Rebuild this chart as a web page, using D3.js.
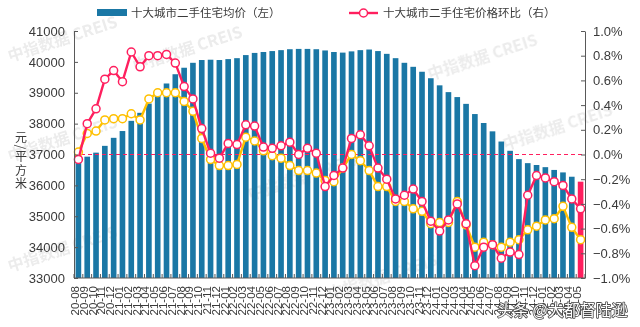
<!DOCTYPE html>
<html>
<head>
<meta charset="utf-8">
<script src="https://cdn.jsdelivr.net/npm/d3@7"></script>
<style>
  html, body { margin: 0; padding: 0; background: #fff; }
  svg { display: block; }
  .vtitle { writing-mode: vertical-rl; text-orientation: mixed; }
</style>
</head>
<body>
<svg id="chart" width="640" height="327"></svg>
<script>
// Month labels (YY-MM), 2020-08 through 2025-05
const months = [
  "20-08","20-09","20-10","20-11","20-12",
  "21-01","21-02","21-03","21-04","21-05","21-06","21-07","21-08","21-09","21-10","21-11","21-12",
  "22-01","22-02","22-03","22-04","22-05","22-06","22-07","22-08","22-09","22-10","22-11","22-12",
  "23-01","23-02","23-03","23-04","23-05","23-06","23-07","23-08","23-09","23-10","23-11","23-12",
  "24-01","24-02","24-03","24-04","24-05","24-06","24-07","24-08","24-09","24-10","24-11","24-12",
  "25-01","25-02","25-03","25-04","25-05"
];

// Ten-city second-hand home average price (yuan / m2), left axis
const avgPrice = [
  36760, 36930, 37060, 37280, 37540,
  37760, 38090, 38350, 38650, 38930, 39300, 39600, 39810, 39970, 40060, 40070, 40060,
  40090, 40120, 40220, 40290, 40320, 40350, 40380, 40410, 40420, 40420, 40410, 40370,
  40320, 40300, 40340, 40380, 40400, 40350, 40260, 40120, 39970, 39840, 39680, 39470,
  39240, 39020, 38860, 38640, 38310, 38020, 37750, 37420, 37120, 36850, 36720, 36660,
  36590, 36500, 36420, 36280, 36120
];

// Month-on-month change of the ten-city price (%), right axis
const momChange = [
  -0.04, 0.25, 0.37, 0.61, 0.68,
  0.59, 0.83, 0.71, 0.80, 0.80, 0.81, 0.74, 0.55, 0.45, 0.21, 0.01, -0.03,
  0.09, 0.08, 0.24, 0.23, 0.06, 0.05, 0.07, 0.10, 0.00, 0.05, 0.01, -0.26,
  -0.17, -0.11, 0.13, 0.16, 0.07, -0.11, -0.20, -0.36, -0.33, -0.28, -0.38, -0.54,
  -0.62, -0.53, -0.40, -0.56, -0.90, -0.75, -0.73, -0.84, -0.79, -0.81, -0.33, -0.17,
  -0.19, -0.22, -0.25, -0.36, -0.44
];

// Companion month-on-month series (%), right axis
const momChange2 = [
  0.02, 0.17, 0.19, 0.28, 0.29,
  0.29, 0.33, 0.28, 0.45, 0.50, 0.50, 0.50, 0.43, 0.35, 0.13, -0.04, -0.09,
  -0.09, -0.08, 0.14, 0.11, 0.03, -0.01, -0.03, -0.09, -0.13, -0.13, -0.15, -0.21,
  -0.22, -0.11, 0.00, -0.05, -0.13, -0.26, -0.26, -0.38, -0.38, -0.44, -0.46, -0.56,
  -0.55, -0.55, -0.38, -0.57, -0.75, -0.71, -0.73, -0.75, -0.71, -0.69, -0.61, -0.58,
  -0.53, -0.52, -0.42, -0.59, -0.69
];

const leftTicks = [33000, 34000, 35000, 36000, 37000, 38000, 39000, 40000, 41000];
const rightTicks = [-1.0, -0.8, -0.6, -0.4, -0.2, 0.0, 0.2, 0.4, 0.6, 0.8, 1.0];
const legendLabels = ["十大城市二手住宅均价（左）", "十大城市二手住宅价格环比（右）"];
const yTitle = "元/平方米";

const BLUE = "#1a77a5";
const PINK = "#ff1f5e";
const GOLD = "#ffc000";
const AXIS = "#595959";
const TEXT = "#3a3a3a";
const NUM_FONT = "'Liberation Sans', Arial, sans-serif";
const CJK_FONT = "'Noto Sans CJK SC', sans-serif";

const svg = d3.select("#chart");
const plotL = 74, plotR = 585, plotT = 31, plotB = 278;

const x = d3.scaleBand().domain(months).range([plotL, plotR]).paddingInner(0.36).paddingOuter(0.18);
const yL = d3.scaleLinear().domain([33000, 41000]).range([plotB, plotT]);
const yR = d3.scaleLinear().domain([-1.0, 1.0]).range([plotB, plotT]);
const cx = d => x(d) + x.bandwidth() / 2;

// Faint background watermarks
const wm = svg.append("g").attr("class", "watermark")
  .attr("font-family", CJK_FONT).attr("font-weight", "bold")
  .attr("font-size", 16).attr("fill", "#c8c8c8").attr("opacity", 0.35);
[[10, 62], [135, 72], [10, 162], [10, 272], [250, 200], [430, 80], [505, 150], [330, 300]]
  .forEach(([wx, wy]) => {
    wm.append("text").attr("transform", `translate(${wx},${wy}) rotate(-18)`).text("中指数据 CREIS");
  });

// Bars
svg.append("g").selectAll("rect").data(months).join("rect")
  .attr("x", d => x(d))
  .attr("y", (d, i) => yL(avgPrice[i]))
  .attr("width", x.bandwidth())
  .attr("height", (d, i) => plotB - yL(avgPrice[i]))
  .attr("fill", (d, i) => i === months.length - 1 ? PINK : BLUE);

// Zero reference line on the right axis
svg.append("line")
  .attr("x1", plotL).attr("x2", plotR)
  .attr("y1", yR(0)).attr("y2", yR(0))
  .attr("stroke", PINK).attr("stroke-width", 1.2).attr("stroke-dasharray", "4,3");

// Lines with hollow markers
function drawSeries(values, color) {
  const line = d3.line().x((d, i) => cx(months[i])).y(d => yR(d));
  svg.append("path").datum(values).attr("d", line)
    .attr("fill", "none").attr("stroke", color).attr("stroke-width", 2.4)
    .attr("stroke-linejoin", "round");
  svg.append("g").selectAll("circle").data(values).join("circle")
    .attr("cx", (d, i) => cx(months[i])).attr("cy", d => yR(d))
    .attr("r", 4).attr("fill", "#fff").attr("stroke", color).attr("stroke-width", 1.5);
}
drawSeries(momChange2, GOLD);
drawSeries(momChange, PINK);

// Left axis
const axL = svg.append("g").attr("transform", `translate(${plotL},0)`)
  .call(d3.axisLeft(yL).tickValues(leftTicks).tickFormat(d3.format("d")).tickSizeInner(-4).tickSizeOuter(0).tickPadding(9));
// Right axis
const axR = svg.append("g").attr("transform", `translate(${plotR},0)`)
  .call(d3.axisRight(yR).tickValues(rightTicks).tickFormat(d => d3.format(".1f")(d) + "%").tickSizeInner(-4).tickSizeOuter(0).tickPadding(9));
[axL, axR].forEach(ax => {
  ax.select(".domain").attr("stroke", AXIS);
  ax.selectAll(".tick line").attr("stroke", AXIS);
  ax.selectAll("text").attr("fill", TEXT).attr("font-family", NUM_FONT).attr("font-size", 13);
});
axR.selectAll("text").attr("x", 8);

// Bottom axis: tick marks between months, rotated labels
svg.append("line").attr("x1", plotL).attr("x2", plotR).attr("y1", plotB).attr("y2", plotB)
  .attr("stroke", AXIS).attr("stroke-width", 1);
const step = x.step();
const edge0 = plotL + step * x.paddingOuter() - step * x.paddingInner() / 2;
svg.append("g").selectAll("line").data(d3.range(months.length + 1)).join("line")
  .attr("x1", i => edge0 + i * step)
  .attr("x2", i => edge0 + i * step)
  .attr("y1", plotB).attr("y2", plotB - 4)
  .attr("stroke", AXIS);
svg.append("g").selectAll("text").data(months).join("text")
  .attr("transform", d => `translate(${cx(d) + 0.5},${286}) rotate(-90)`)
  .attr("text-anchor", "end")
  .attr("font-family", NUM_FONT).attr("font-size", 11.5).attr("fill", TEXT)
  .text(d => d);

// Vertical axis title set in vertical writing mode
svg.append("text").attr("class", "vtitle")
  .attr("x", 21).attr("y", 131)
  .attr("font-family", CJK_FONT).attr("font-size", 12).attr("fill", TEXT)
  .attr("letter-spacing", 1.5)
  .text(yTitle);

// Legend
const lg = svg.append("g").attr("font-family", CJK_FONT).attr("font-size", 11.5).attr("fill", TEXT);
lg.append("rect").attr("x", 97).attr("y", 9).attr("width", 30).attr("height", 7).attr("fill", BLUE);
lg.append("text").attr("x", 131).attr("y", 17).text(legendLabels[0]);
lg.append("line").attr("x1", 349).attr("x2", 378).attr("y1", 13).attr("y2", 13)
  .attr("stroke", PINK).attr("stroke-width", 2.4);
lg.append("circle").attr("cx", 363.5).attr("cy", 13).attr("r", 4)
  .attr("fill", "#fff").attr("stroke", PINK).attr("stroke-width", 1.5);
lg.append("text").attr("x", 383).attr("y", 17).text(legendLabels[1]);

// Publisher tag
svg.append("text").attr("x", 497).attr("y", 316)
  .attr("font-family", CJK_FONT).attr("font-size", 16)
  .attr("fill", "#fff").attr("stroke", "#444").attr("stroke-width", 1.6)
  .attr("paint-order", "stroke").attr("stroke-linejoin", "round")
  .text("头条 @大都督陆逊");
</script>
</body>
</html>
